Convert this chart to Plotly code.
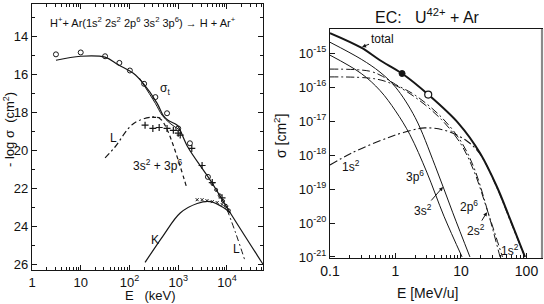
import plotly.graph_objects as go

W, H = 544, 304
FONT = "Liberation Sans, Arial, sans-serif"
LC = "#161616"

# ---------------- left panel data (E in keV, -log sigma) ----------------
sigt_E = [3.1, 10, 31.6, 59, 120, 190, 370, 490, 620, 955, 1100, 1585, 4570, 11750, 55000]
sigt_v = [15.26, 15.05, 15.1, 15.5, 15.95, 16.47, 17.53, 18.16, 18.42, 18.68, 18.95, 19.84, 21.58, 23.3, 26.0]
sigt2_E = [160, 340, 470, 680, 1100]
sigt2_v = [16.2, 17.53, 18.16, 18.58, 18.95]
L_E = [31.6, 50, 120, 290, 430]
L_v = [20.4, 19.84, 18.6, 18.25, 18.3]
L3_E = [290, 430, 590, 795, 1100, 1510]
L3_v = [18.25, 18.35, 18.9, 19.75, 20.85, 22.0]
K_E = [209, 490, 1100, 2450, 4570, 8300, 11750]
K_v = [25.9, 24.5, 23.3, 22.8, 22.7, 23.0, 23.3]
K2_E = [10000, 15100, 23400]
K2_v = [23.1, 24.35, 25.8]
circ_E = [3.1, 10, 31.6, 62, 102, 200, 340, 590, 1000, 1740, 4070]
circ_v = [14.95, 14.85, 15.05, 15.4, 15.8, 16.5, 17.2, 18.05, 18.85, 19.63, 21.4]
circs_E = [5000, 6000, 7100, 8300, 9500, 11000]
circs_v = [21.75, 22.08, 22.37, 22.67, 22.92, 23.17]
plus_E = [209, 302, 407, 590, 795, 1000, 1100, 1900, 3090, 5000, 7940]
plus_v = [18.68, 18.85, 18.8, 18.85, 18.95, 19.1, 19.2, 19.9, 20.8, 21.7, 22.5]
xk_E = [2450, 3090, 3890, 5000, 6300, 7940, 10000]
xk_v = [22.6, 22.6, 22.65, 22.7, 22.75, 22.85, 23.0]

# ---------------- right panel data (E in MeV/u, log10 sigma) ----------------
tot_E = [0.1, 0.3, 0.58, 1.26, 3.16, 9.3, 19.5, 35.5, 56, 95]
tot_l = [-14.41, -14.84, -15.21, -15.6, -16.22, -17.08, -17.94, -18.94, -19.88, -21.0]
s3a_E = [0.1, 0.3, 0.58, 1.0, 2.0, 4.0, 7.5, 13.7]
s3a_l = [-14.68, -15.18, -15.56, -16.0, -16.9, -18.3, -19.7, -21.0]
p3_E = [0.1, 0.3, 0.58, 1.0, 1.66, 3.0, 5.5, 10.4]
p3_l = [-15.06, -15.6, -16.1, -16.7, -17.4, -18.5, -19.8, -21.0]
p2_E = [0.1, 0.4, 0.63, 1.0, 2.0, 5.0, 10, 16, 24.7, 39.5]
p2_l = [-15.47, -15.53, -15.68, -15.92, -16.24, -16.88, -17.6, -18.4, -19.55, -21.0]
s2_E = [0.1, 0.5, 1.0, 2.0, 5.0, 10, 16, 25, 43]
s2_l = [-15.7, -15.76, -15.95, -16.3, -16.95, -17.68, -18.5, -19.6, -21.0]
s1_E = [0.1, 0.22, 0.74, 1.26, 2.8, 6.3, 12.6, 19.5, 35.5, 56, 95]
s1_l = [-18.29, -17.93, -17.5, -17.35, -17.2, -17.3, -17.6, -17.97, -18.96, -19.91, -21.0]
dot_E, dot_l = [1.26], [-15.6]
ocirc_E, ocirc_l = [3.16], [-16.22]

left_xticks = [1, 10, 100, 1000, 10000]
left_xtext = ["1", "10", "10<sup>2</sup>", "10<sup>3</sup>", "10<sup>4</sup>"]
left_yticks = [14, 16, 18, 20, 22, 24, 26]
right_xticks = [0.1, 1, 10, 100]
right_xtext = ["0.1", "1", "10", "100"]
right_yexp = [-15, -16, -17, -18, -19, -20, -21]

fig = go.Figure()


def line(x, y, xa, ya, dash="solid", w=1.2):
    fig.add_trace(go.Scatter(x=x, y=y, xaxis=xa, yaxis=ya, mode="lines",
                             line=dict(color=LC, width=w, dash=dash, shape="spline", smoothing=1.0),
                             showlegend=False, hoverinfo="skip"))


def marks(x, y, xa, ya, sym, size, w=1):
    fig.add_trace(go.Scatter(x=x, y=y, xaxis=xa, yaxis=ya, mode="markers",
                             marker=dict(symbol=sym, size=size, color=LC, line=dict(color=LC, width=w)),
                             showlegend=False, hoverinfo="skip"))


# left panel
line(sigt_E, sigt_v, "x", "y")
line(sigt2_E, sigt2_v, "x", "y", w=1.0)
line(L_E, L_v, "x", "y", dash="6px,3px,2px,3px")
line(L3_E, L3_v, "x", "y", dash="4px,3px")
line(K_E, K_v, "x", "y")
line(K2_E, K2_v, "x", "y", dash="6px,3px,2px,3px", w=1.0)
marks(circ_E, circ_v, "x", "y", "circle-open", 5)
marks(circs_E, circs_v, "x", "y", "circle-open", 3)
marks(plus_E, plus_v, "x", "y", "cross-thin-open", 5, 1.2)
marks(xk_E, xk_v, "x", "y", "x-thin-open", 3, 1.0)

# right panel
p = lambda arr: [10 ** v for v in arr]
line(tot_E, p(tot_l), "x2", "y2", w=2.0)
line(s3a_E, p(s3a_l), "x2", "y2", w=1.0)
line(p3_E, p(p3_l), "x2", "y2", w=1.0)
line(p2_E, p(p2_l), "x2", "y2", dash="8px,3px,2px,3px", w=1.0)
line(s2_E, p(s2_l), "x2", "y2", dash="8px,3px,2px,3px", w=1.0)
line(s1_E, p(s1_l), "x2", "y2", dash="8px,3px,2px,3px", w=1.1)
marks(dot_E, p(dot_l), "x2", "y2", "circle", 6)
fig.add_trace(go.Scatter(x=ocirc_E, y=p(ocirc_l), xaxis="x2", yaxis="y2", mode="markers",
                         marker=dict(symbol="circle", size=7, color="white", line=dict(color=LC, width=1.2)),
                         showlegend=False, hoverinfo="skip"))


def dom(a, b, total):
    return [a / total, b / total]


tickfont = dict(family=FONT, size=13, color="#111")
ax_common = dict(showgrid=False, zeroline=False, showline=True, linecolor=LC, linewidth=1.2,
                 ticks="inside", tickcolor=LC, ticklen=5, tickwidth=1, tickfont=tickfont,
                 automargin=False)

minor_left_x = [m * 10 ** d for d in range(0, 5) for m in range(2, 10)]
minor_right_x = [m * 10 ** d for d in range(-1, 3) for m in range(2, 10)]

fig.update_layout(
    width=W, height=H, margin=dict(l=0, r=0, t=0, b=0, autoexpand=False),
    paper_bgcolor="white", plot_bgcolor="white",
    xaxis=dict(ax_common, type="log", range=[0, 4.74], domain=dom(32, 263, W), anchor="y",
               tickmode="array", tickvals=left_xticks, ticktext=left_xtext, mirror="allticks",
               minor=dict(ticks="inside", ticklen=3, tickcolor=LC, tickmode="array", tickvals=minor_left_x)),
    yaxis=dict(ax_common, range=[26.3, 12.3], domain=[1 - 270 / H, 1 - 4 / H], anchor="x",
               tickmode="array", tickvals=left_yticks, mirror="allticks",
               minor=dict(ticks="inside", ticklen=3, tickcolor=LC, tickmode="array",
                          tickvals=[13, 15, 17, 19, 21, 23, 25])),
    xaxis2=dict(ax_common, type="log", range=[-1, 2.237], domain=dom(330, 542, W), anchor="y2",
                tickmode="array", tickvals=right_xticks, ticktext=right_xtext, mirror=True,
                tickfont=dict(family=FONT, size=14, color="#111"),
                minor=dict(ticks="inside", ticklen=3, tickcolor=LC, tickmode="array", tickvals=minor_right_x)),
    yaxis2=dict(ax_common, type="log", range=[-21.03, -14.29], domain=[1 - 258 / H, 1 - 29 / H], anchor="x2",
                tickmode="array", tickvals=[10 ** e for e in right_yexp],
                ticktext=["10<sup>%d</sup>" % e for e in right_yexp], mirror=True,
                tickfont=dict(family=FONT, size=13, color="#111")),
)

# grey, heavier right border of the right panel (as in the scan)
fig.add_shape(type="line", xref="x2 domain", yref="y2 domain", x0=1, x1=1, y0=0, y1=1,
              line=dict(color="#8a8a8a", width=2.2))


def pann(text, x, y, size=13, angle=0, **kw):
    fig.add_annotation(text=text, x=x / W, y=1 - y / H, xref="paper", yref="paper", showarrow=False,
                       xanchor="center", yanchor="middle",
                       font=dict(family=FONT, size=size, color="#111"), textangle=angle, **kw)


def dann(text, x, y, xa, ya, size=12, **kw):
    fig.add_annotation(text=text, x=x, y=y, xref=xa, yref=ya,
                       font=dict(family=FONT, size=size, color="#111"), **kw)


# left panel text
pann("H<sup>+</sup>+ Ar(1s<sup>2</sup> 2s<sup>2</sup> 2p<sup>6</sup> 3s<sup>2</sup> 3p<sup>6</sup>) \u2192 H + Ar<sup>+</sup>",
     143, 22, size=11)
pann("- log \u03c3  (cm<sup>2</sup>)", 9, 130, size=13, angle=-90)
pann("E   (keV)", 150, 295, size=13)
dann("\u03c3<sub>t</sub>", 2.73, 16.79, "x", "y", showarrow=False)
dann("L", 1.68, 19.37, "x", "y", showarrow=False)
dann("3s<sup>2</sup> + 3p<sup>6</sup>", 2.57, 20.79, "x", "y", showarrow=False)
dann("K", 2.53, 24.74, "x", "y", showarrow=False)
dann("L", 4.19, 25.21, "x", "y", showarrow=False)

# right panel text
pann("EC:   U<sup>42+</sup> + Ar", 427, 16, size=16)
pann("E [MeV/u]", 427, 293, size=14)
pann("\u03c3 [cm<sup>2</sup>]", 280, 136, size=14, angle=-90)
arrow = dict(showarrow=True, arrowhead=2, arrowsize=0.8, arrowwidth=1, arrowcolor=LC)
dann("total", -0.511, -14.82, "x2", "y2", ax=20, ay=-8, **arrow)
dann("1s<sup>2</sup>", -0.679, -18.32, "x2", "y2", showarrow=False)
dann("3p<sup>6</sup>", 0.298, -18.62, "x2", "y2", showarrow=False)
dann("3s<sup>2</sup>", 0.725, -18.94, "x2", "y2", ax=-20, ay=23, **arrow)
dann("2p<sup>6</sup>", 1.122, -19.5, "x2", "y2", showarrow=False)
dann("2s<sup>2</sup>", 1.397, -19.68, "x2", "y2", ax=-11, ay=18, **arrow)
dann("1s<sup>2</sup>", 1.748, -20.79, "x2", "y2", showarrow=False)

fig.write_html("out.html", config={"displayModeBar": False},
               post_script="document.body.style.margin='0';")
